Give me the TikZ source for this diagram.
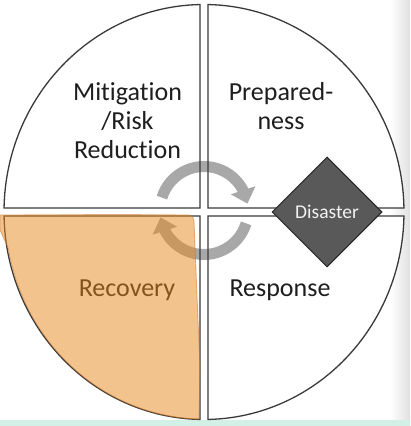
\documentclass[tikz,border=0pt]{standalone}
\usepackage{fontspec}
\setmainfont{Carlito}[Ligatures=NoCommon]
\usetikzlibrary{shapes.geometric,arrows.meta,bending,calc}
\definecolor{quadline}{HTML}{3A3A3A}
\definecolor{arrowgrey}{HTML}{A8A8A8}
\definecolor{disfill}{HTML}{595959}
\definecolor{orangefill}{RGB}{233,137,31}
\definecolor{orangeedge}{RGB}{200,110,30}
\definecolor{mint}{HTML}{D3F0E6}
\definecolor{txt}{HTML}{1E1E1E}
\tikzset{
  quad/.style={fill=white},
  quadedge/.style={draw=quadline, line width=1.3pt},
  cyclearrow/.style={draw=arrowgrey, line width=11pt, -{Triangle[width=25pt,length=14pt]}},
  label/.style={text=txt, font=\fontsize{26}{29}\selectfont, anchor=base, inner sep=0pt},
  disasterbox/.style={diamond, aspect=1, minimum width=110pt, minimum height=110pt, inner sep=0pt,
    fill=disfill, draw=black!85, line width=1pt, text=white!95!black,
    font=\fontsize{19.5}{22}\selectfont}
}
\begin{document}
\begin{tikzpicture}[x=1pt,y=1pt]
\useasboundingbox (0,0) rectangle (410,426);
% background
\fill[white] (0,0) rectangle (410,426);
\shade[left color=white, right color=black!12] (390,0) rectangle (410,426);
\fill[mint] (0,0) rectangle (410,5.5);
% quadrant fills
\path[quad] (200,218) -- (200,421.46) arc[start angle=91.146, end angle=178.895, x radius=200pt, y radius=207.5pt] -- cycle;
\path[quad] (208,218) -- (208,421.46) arc[start angle=88.854, end angle=1.105, x radius=200pt, y radius=207.5pt] -- cycle;
\path[quad] (200,210) -- (4.04,210) arc[start angle=181.105, end angle=268.854, x radius=200pt, y radius=207.5pt] -- cycle;
\path[quad] (208,210) -- (208,6.54) arc[start angle=271.146, end angle=358.895, x radius=200pt, y radius=207.5pt] -- cycle;
% cycle arrows
\coordinate (cyc) at (204,215.5);
\draw[cyclearrow] ($(cyc)+(163:44pt)$) arc[start angle=163, end angle=9, radius=44pt];
\draw[cyclearrow] ($(cyc)+(343:44pt)$) arc[start angle=343, end angle=189, radius=44pt];
% quadrant outlines
\path[quadedge] (200,218) -- (200,421.46) arc[start angle=91.146, end angle=178.895, x radius=200pt, y radius=207.5pt] -- cycle;
\path[quadedge] (208,218) -- (208,421.46) arc[start angle=88.854, end angle=1.105, x radius=200pt, y radius=207.5pt] -- cycle;
\path[quadedge] (200,210) -- (4.04,210) arc[start angle=181.105, end angle=268.854, x radius=200pt, y radius=207.5pt] -- cycle;
\path[quadedge] (208,210) -- (208,6.54) arc[start angle=271.146, end angle=358.895, x radius=200pt, y radius=207.5pt] -- cycle;
% labels
\node[label] (mit1) at (127.5,325) {Mitigation};
\node[label] (mit2) at (127.5,296) {/Risk};
\node[label] (mit3) at (127.5,267) {Reduction};
\node[label] (prep1) at (281,325) {Prepared-};
\node[label] (prep2) at (281,296) {ness};
\node[label] (rec) at (127,129) {Recovery};
\node[label] (resp) at (280,129) {Response};
% orange highlight (hand drawn)
\path[fill=orangefill, fill opacity=0.5, draw=orangeedge, draw opacity=0.5, line width=0.8pt]
  (0,211) -- (120,211.5) -- (189,211) to[out=0,in=95] (194,205)
  -- (197,130) -- (200,60) -- (199,6.8)
  arc[start angle=268.5, end angle=190, x radius=199pt, y radius=207pt]
  -- (0,196) -- cycle;
% disaster
\node[disasterbox] (dis) at (327,214) {\raisebox{-1pt}{Disaster}};
\end{tikzpicture}
\end{document}
